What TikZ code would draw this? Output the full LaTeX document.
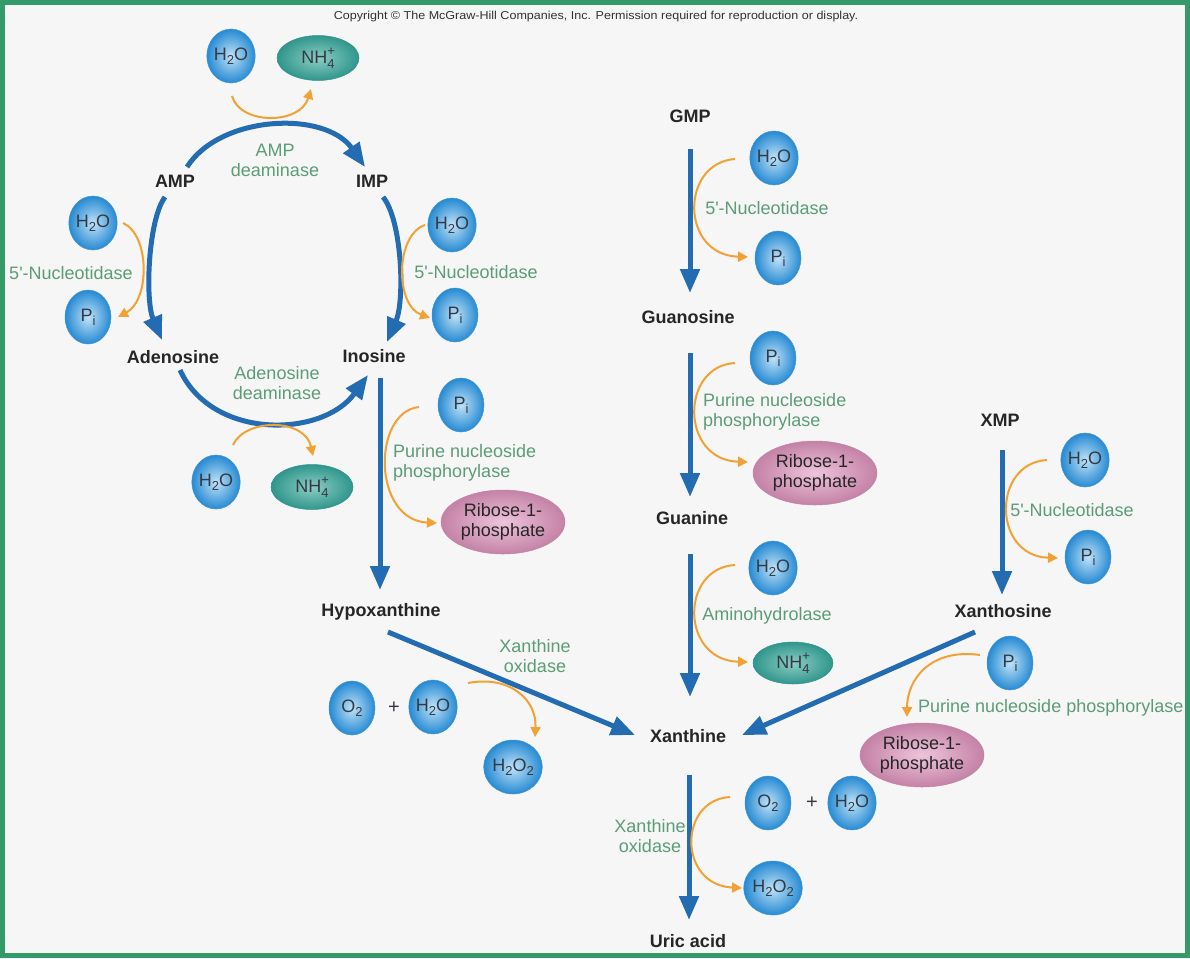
\documentclass[tikz,border=0pt]{standalone}
\usepackage{fontspec}
\setmainfont{Liberation Sans}
\usetikzlibrary{arrows.meta,shapes.geometric}

\definecolor{frame}{RGB}{52,154,104}
\definecolor{bg}{RGB}{246,246,246}
\definecolor{pathblue}{RGB}{36,108,178}
\definecolor{orng}{RGB}{242,162,52}
\definecolor{enz}{RGB}{92,156,118}
\definecolor{lbl}{RGB}{38,38,38}
\definecolor{balltext}{RGB}{52,58,68}
\definecolor{ballin}{RGB}{192,226,248}
\definecolor{ballout}{RGB}{38,138,210}
\definecolor{balledge}{RGB}{70,150,215}
\definecolor{tealin}{RGB}{140,205,196}
\definecolor{tealout}{RGB}{48,150,140}
\definecolor{pinkin}{RGB}{238,196,220}
\definecolor{pinkout}{RGB}{196,130,166}

\newcommand\lowsub[1]{\raisebox{-4pt}{\fontsize{13}{13}\selectfont #1}}
\newcommand\ammon{NH\makebox[0pt][l]{\raisebox{8pt}{\fontsize{13}{13}\selectfont +}}\raisebox{-5pt}{\fontsize{13}{13}\selectfont 4}}
\newcommand\nucl{5\textquotesingle-Nucleotidase}

\begin{document}
\begin{tikzpicture}[x=1pt,y=-1pt,
  compound/.style={font=\fontsize{18}{18}\selectfont\bfseries, text=lbl, inner sep=2pt, text height=13pt, text depth=3pt},
  enzyme/.style={font=\fontsize{18}{20}\selectfont, text=enz, inner sep=0pt, align=center},
  ball/.style={ellipse, minimum width=46pt, minimum height=54pt, inner sep=0pt, draw=balledge, line width=0.5pt, inner color=ballin, outer color=ballout, font=\fontsize{18}{18}\selectfont, text=balltext},
  ammonium/.style={ellipse, minimum width=82pt, minimum height=45pt, inner sep=0pt, draw=tealout, line width=0.5pt, inner color=tealin, outer color=tealout, font=\fontsize{18}{18}\selectfont, text=balltext},
  ribose/.style={ellipse, minimum width=124pt, minimum height=64pt, inner sep=0pt, draw=pinkout, line width=0.5pt, inner color=pinkin, outer color=pinkout, font=\fontsize{18}{20}\selectfont, text=lbl, align=center},
  plus/.style={font=\fontsize{20}{20}\selectfont, text=balltext, inner sep=1pt},
  mainarrow/.style={draw=pathblue, line width=5pt, -{Triangle[length=24pt,width=19pt]}},
  sidearrow/.style={draw=orng, line width=2pt, -{Triangle[length=10pt,width=10pt]}},
]
\useasboundingbox (0,0) rectangle (1190,958);
\fill[bg] (0,0) rectangle (1190,958);
\draw[frame, line width=5pt] (2.5,2.5) rectangle (1187.5,955.5);

\node[font=\fontsize{11.5}{11.5}\selectfont, text=black!80, inner sep=0pt] (copy) at (596,17) {\scalebox{1.09}[1]{Copyright \textcopyright{} The McGraw-Hill Companies, Inc. Permission required for reproduction or display.}};

% ---------- AMP / IMP cycle ----------
\node[compound] (AMP) at (175,182) {AMP};
\node[compound] (IMP) at (372,182) {IMP};
\node[compound] (Ado) at (173,358) {Adenosine};
\node[compound] (Ino) at (374,357) {Inosine};
\node[enzyme] (eAMPd) at (275,160) {AMP\\deaminase};
\node[enzyme] (eAdod) at (277,383) {Adenosine\\deaminase};

\node[ball] (w1) at (231,56) {H\lowsub{2}O};
\node[ammonium] (n1) at (318,58) {\ammon};

\node[ball] (w2) at (93,223) {H\lowsub{2}O};
\node[ball] (p2) at (88,317) {P\lowsub{i}};
\node[enzyme] (e2) at (71,273) {\nucl};

\node[ball] (w3) at (452,225) {H\lowsub{2}O};
\node[ball] (p3) at (455,315) {P\lowsub{i}};
\node[enzyme] (e3) at (476,272) {\nucl};

\node[ball] (w4) at (216,482) {H\lowsub{2}O};
\node[ammonium] (n4) at (312,487) {\ammon};

\coordinate (a1s) at (187,167); \coordinate (a1e) at (365,167);
\coordinate (a2s) at (165,197); \coordinate (a2e) at (162,340);
\coordinate (a3s) at (383,197); \coordinate (a3e) at (387,342);
\coordinate (a4s) at (180,370); \coordinate (a4e) at (368,375);
\draw[mainarrow] (a1s) .. controls (220,115) and (325,110) .. (a1e);
\draw[mainarrow] (a2s) .. controls (148,220) and (145,300) .. (a2e);
\draw[mainarrow] (a3s) .. controls (402,220) and (405,300) .. (a3e);
\draw[mainarrow] (a4s) .. controls (212,440) and (322,438) .. (a4e);

\coordinate (o1s) at (232,96); \coordinate (o1e) at (311,89);
\draw[sidearrow] (o1s) .. controls (240,125) and (300,125) .. (o1e);
\coordinate (o2s) at (123,223); \coordinate (o2e) at (118,317);
\draw[sidearrow] (o2s) .. controls (150,235) and (150,300) .. (o2e);
\coordinate (o3s) at (425,225); \coordinate (o3e) at (430,318);
\draw[sidearrow] (o3s) .. controls (395,235) and (395,305) .. (o3e);
\coordinate (o4s) at (233,445); \coordinate (o4e) at (313,456);
\draw[sidearrow] (o4s) .. controls (245,418) and (305,418) .. (o4e);

% ---------- Inosine -> Hypoxanthine ----------
\node[ball] (p5) at (461,405) {P\lowsub{i}};
\node[enzyme, align=left, anchor=west] (e5) at (393,463) {Purine nucleoside\\phosphorylase};
\node[ribose] (r5) at (503,522) {Ribose-1-\\phosphate};
\node[compound] (Hyp) at (381,611) {Hypoxanthine};
\coordinate (b1s) at (380,378); \coordinate (b1e) at (380,590);
\draw[mainarrow] (b1s) -- (b1e);
\coordinate (o5s) at (419,407); \coordinate (o5e) at (437,523);
\draw[sidearrow] (o5s) .. controls (372,412) and (372,520) .. (o5e);

% ---------- Hypoxanthine -> Xanthine ----------
\node[compound] (Xan) at (688,737) {Xanthine};
\node[enzyme] (e6) at (535,656) {Xanthine\\oxidase};
\node[ball] (o6) at (352,708) {O\lowsub{2}};
\node[plus] (plus6) at (394,708) {+};
\node[ball] (w6) at (433,707) {H\lowsub{2}O};
\node[ball] (hp6) at (513,767) {H\lowsub{2}O\lowsub{2}};
\coordinate (b2s) at (388,632); \coordinate (b2e) at (635,735);
\draw[mainarrow] (b2s) -- (b2e);
\coordinate (o6s) at (468,683); \coordinate (o6e) at (535,737);
\draw[sidearrow] (o6s) .. controls (510,675) and (537,700) .. (o6e);

% ---------- GMP column ----------
\node[compound] (GMP) at (690,117) {GMP};
\node[ball] (w7) at (774,158) {H\lowsub{2}O};
\node[enzyme] (e7) at (767,208) {\nucl};
\node[ball] (p7) at (778,258) {P\lowsub{i}};
\node[compound] (Guo) at (688,318) {Guanosine};
\coordinate (b3s) at (690,149); \coordinate (b3e) at (690,293);
\draw[mainarrow] (b3s) -- (b3e);
\coordinate (o7s) at (735,159); \coordinate (o7e) at (748,257);
\draw[sidearrow] (o7s) .. controls (680,163) and (680,255) .. (o7e);

\node[ball] (p8) at (773,358) {P\lowsub{i}};
\node[enzyme, align=left, anchor=west] (e8) at (703,412) {Purine nucleoside\\phosphorylase};
\node[ribose] (r8) at (815,473) {Ribose-1-\\phosphate};
\node[compound] (Gua) at (692,519) {Guanine};
\coordinate (b4s) at (690,353); \coordinate (b4e) at (690,497);
\draw[mainarrow] (b4s) -- (b4e);
\coordinate (o8s) at (735,363); \coordinate (o8e) at (748,462);
\draw[sidearrow] (o8s) .. controls (680,366) and (680,460) .. (o8e);

\node[ball] (w9) at (773,568) {H\lowsub{2}O};
\node[enzyme] (e9) at (767,616) {Aminohydrolase};
\node[ammonium, minimum width=80pt, minimum height=42pt] (n9) at (793,663) {\ammon};
\coordinate (b5s) at (690,554); \coordinate (b5e) at (690,697);
\draw[mainarrow] (b5s) -- (b5e);
\coordinate (o9s) at (735,565); \coordinate (o9e) at (748,662);
\draw[sidearrow] (o9s) .. controls (680,568) and (680,660) .. (o9e);

% ---------- XMP column ----------
\node[compound] (XMP) at (1000,421) {XMP};
\node[ball] (w10) at (1085,460) {H\lowsub{2}O};
\node[enzyme] (e10) at (1072,510) {\nucl};
\node[ball] (p10) at (1088,557) {P\lowsub{i}};
\node[compound] (Xao) at (1003,612) {Xanthosine};
\coordinate (b6s) at (1002,450); \coordinate (b6e) at (1002,595);
\draw[mainarrow] (b6s) -- (b6e);
\coordinate (o10s) at (1047,460); \coordinate (o10e) at (1058,558);
\draw[sidearrow] (o10s) .. controls (992,463) and (992,556) .. (o10e);

\node[ball] (p11) at (1010,663) {P\lowsub{i}};
\node[enzyme, anchor=west] (e11) at (918,708) {Purine nucleoside phosphorylase};
\node[ribose] (r11) at (922,755) {Ribose-1-\\phosphate};
\coordinate (b7s) at (975,632); \coordinate (b7e) at (742,735);
\draw[mainarrow] (b7s) -- (b7e);
\coordinate (o11s) at (980,655); \coordinate (o11e) at (907,717);
\draw[sidearrow] (o11s) .. controls (930,648) and (907,680) .. (o11e);

% ---------- Xanthine -> Uric acid ----------
\node[enzyme] (e12) at (650,836) {Xanthine\\oxidase};
\node[ball] (o12) at (768,803) {O\lowsub{2}};
\node[plus] (plus12) at (812,803) {+};
\node[ball] (w12) at (852,803) {H\lowsub{2}O};
\node[ball] (hp12) at (773,888) {H\lowsub{2}O\lowsub{2}};
\node[compound] (Uric) at (688,942) {Uric acid};
\coordinate (b8s) at (689,775); \coordinate (b8e) at (689,920);
\draw[mainarrow] (b8s) -- (b8e);
\coordinate (o12s) at (730,797); \coordinate (o12e) at (742,888);
\draw[sidearrow] (o12s) .. controls (678,800) and (678,885) .. (o12e);
\end{tikzpicture}
\end{document}
